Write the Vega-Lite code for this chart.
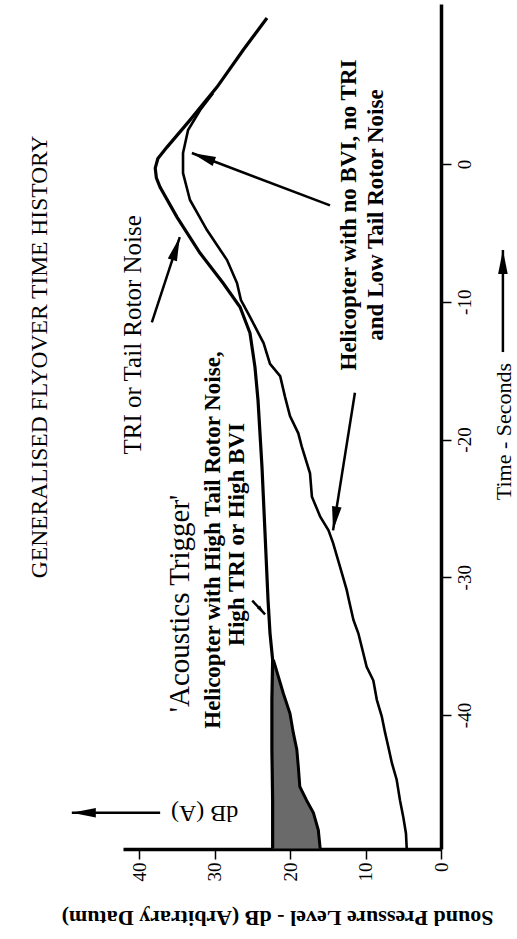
{
  "$schema": "https://vega.github.io/schema/vega-lite/v6.json",
  "autosize": {"type": "none"},
  "width": 318,
  "height": 845,
  "padding": {"left": 123, "top": 4, "right": 76, "bottom": 90},
  "background": "white",
  "config": {
    "font": "Liberation Serif",
    "view": {"stroke": null},
    "axis": {
      "grid": false,
      "domainColor": "black",
      "domainWidth": 3.5,
      "tickColor": "black",
      "tickWidth": 1.5,
      "tickSize": 10,
      "labelColor": "black",
      "labelFont": "Liberation Serif",
      "titleColor": "black",
      "titleFont": "Liberation Serif"
    }
  },
  "layer": [
    {
      "data": {"values": [
        {"t": -36.0, "lower": 22.2, "upper": 22.3},
        {"t": -37.2, "lower": 21.55, "upper": 22.4},
        {"t": -38.4, "lower": 20.9, "upper": 22.4},
        {"t": -39.9, "lower": 20.0, "upper": 22.4},
        {"t": -41.3, "lower": 19.56, "upper": 22.4},
        {"t": -42.5, "lower": 19.1, "upper": 22.4},
        {"t": -43.75, "lower": 18.9, "upper": 22.4},
        {"t": -45.2, "lower": 18.7, "upper": 22.35},
        {"t": -46.2, "lower": 17.8, "upper": 22.3},
        {"t": -47.1, "lower": 16.9, "upper": 22.3},
        {"t": -48.35, "lower": 16.25, "upper": 22.3},
        {"t": -49.7, "lower": 16.0, "upper": 22.3}
      ]},
      "layer": [
        {
          "mark": {"type": "area", "orient": "horizontal", "color": "#6a6a6a", "opacity": 1},
          "encoding": {
            "y": {"field": "t", "type": "quantitative",
              "scale": {"domain": [-49.73, 11.62], "nice": false, "zero": false},
              "axis": {"orient": "right", "values": [-40, -30, -20, -10, 0],
                "labelAngle": -90, "labelFontSize": 19, "labelPadding": 4,
                "labelExpr": "replace(datum.label, '−', '-')",
                "title": "Time - Seconds", "titleFontSize": 22, "titleFontWeight": "normal",
                "titleAngle": -90, "titleX": 62, "titleY": 427,
                "titleAlign": "center", "titleBaseline": "middle"}},
            "x": {"field": "lower", "type": "quantitative",
              "scale": {"domain": [0, 42.12], "reverse": true, "nice": false},
              "axis": {"orient": "bottom", "values": [0, 10, 20, 30, 40],
                "labelAngle": -90, "labelFontSize": 19, "labelPadding": 3,
                "title": "Sound Pressure Level - dB (Arbitrary Datum)", "titleFontSize": 22,
                "titleFontWeight": "bold", "titleAngle": 180, "titleX": 154, "titleY": 68,
                "titleAlign": "center", "titleBaseline": "middle"}},
            "x2": {"field": "upper"}
          }
        },
        {
          "mark": {"type": "line", "color": "black", "strokeWidth": 3},
          "encoding": {
            "y": {"field": "t", "type": "quantitative"},
            "x": {"field": "lower", "type": "quantitative"},
            "order": {"field": "t", "type": "quantitative"}
          }
        }
      ]
    },
    {
      "data": {"values": [
        {"t": 10.6, "db": 23.05}, {"t": 8.28, "db": 26.2}, {"t": 5.59, "db": 29.67},
        {"t": 3.19, "db": 33.25}, {"t": 1.23, "db": 36.29}, {"t": 0.4, "db": 37.5},
        {"t": -0.3, "db": 37.85}, {"t": -1.0, "db": 37.7}, {"t": -1.67, "db": 37.22},
        {"t": -3.85, "db": 34.97}, {"t": -6.46, "db": 31.92}, {"t": -8.64, "db": 28.87},
        {"t": -10.38, "db": 26.62}, {"t": -12.27, "db": 25.3}, {"t": -14.74, "db": 24.64},
        {"t": -17.13, "db": 24.24}, {"t": -22.0, "db": 23.71}, {"t": -26.79, "db": 23.31},
        {"t": -31.65, "db": 22.91}, {"t": -34.05, "db": 22.65}, {"t": -36.0, "db": 22.3},
        {"t": -38.9, "db": 22.4}, {"t": -42.5, "db": 22.4}, {"t": -46.2, "db": 22.3},
        {"t": -49.7, "db": 22.3}
      ]},
      "mark": {"type": "line", "color": "black", "strokeWidth": 3.2},
      "encoding": {
        "y": {"field": "t", "type": "quantitative"},
        "x": {"field": "db", "type": "quantitative"},
        "order": {"field": "t", "type": "quantitative"}
      }
    },
    {
      "data": {"values": [
        {"t": 5.15, "db": 30.2}, {"t": 3.92, "db": 31.9}, {"t": 2.47, "db": 33.5},
        {"t": 0.8, "db": 34.17}, {"t": -0.65, "db": 34.17}, {"t": -2.61, "db": 33.25},
        {"t": -4.79, "db": 31.0}, {"t": -6.97, "db": 28.34}, {"t": -8.64, "db": 27.02},
        {"t": -9.87, "db": 26.5}, {"t": -11.1, "db": 25.3}, {"t": -13.0, "db": 23.5},
        {"t": -14.5, "db": 22.65}, {"t": -15.4, "db": 21.3}, {"t": -16.9, "db": 20.66},
        {"t": -18.3, "db": 20.0}, {"t": -19.55, "db": 18.9}, {"t": -20.5, "db": 18.45},
        {"t": -22.45, "db": 17.35}, {"t": -24.15, "db": 17.1}, {"t": -25.6, "db": 16.0},
        {"t": -26.6, "db": 14.9}, {"t": -27.5, "db": 14.3}, {"t": -29.2, "db": 13.4},
        {"t": -30.9, "db": 12.5}, {"t": -31.65, "db": 12.2}, {"t": -33.1, "db": 11.6},
        {"t": -34.07, "db": 10.95}, {"t": -35.5, "db": 10.3}, {"t": -36.5, "db": 9.85},
        {"t": -37.5, "db": 8.96}, {"t": -38.9, "db": 8.5}, {"t": -40.1, "db": 7.85},
        {"t": -41.3, "db": 7.4}, {"t": -42.3, "db": 6.98}, {"t": -43.5, "db": 6.5},
        {"t": -44.7, "db": 5.87}, {"t": -46.2, "db": 5.43}, {"t": -47.4, "db": 5.0},
        {"t": -48.6, "db": 4.64}, {"t": -49.7, "db": 4.54}
      ]},
      "mark": {"type": "line", "color": "black", "strokeWidth": 2.6},
      "encoding": {
        "y": {"field": "t", "type": "quantitative"},
        "x": {"field": "db", "type": "quantitative"},
        "order": {"field": "t", "type": "quantitative"}
      }
    },
    {
      "data": {"values": [
        {"db": 38.3, "db2": 34.6, "t": -11.5, "t2": -5.3},
        {"db": 14.7, "db2": 33.0, "t": -3.0, "t2": 0.8},
        {"db": 11.4, "db2": 14.3, "t": -16.6, "t2": -26.6},
        {"db": 25.0, "db2": 23.3, "t": -31.7, "t2": -32.7},
        {"db": 37.2, "db2": 48.9, "t": -47.1, "t2": -47.1},
        {"db": -8.2, "db2": -8.2, "t": -13.65, "t2": -6.24}
      ]},
      "mark": {"type": "rule", "color": "black", "strokeWidth": 2.5},
      "encoding": {
        "x": {"field": "db", "type": "quantitative"},
        "x2": {"field": "db2"},
        "y": {"field": "t", "type": "quantitative"},
        "y2": {"field": "t2"}
      }
    },
    {
      "data": {"values": [{"db": 34.6, "t": -5.3}]},
      "mark": {"type": "point", "shape": "M0,0L0.4,2L-0.4,2Z", "filled": true, "color": "black", "opacity": 1, "size": 576, "angle": 18},
      "encoding": {"x": {"field": "db", "type": "quantitative"}, "y": {"field": "t", "type": "quantitative"}}
    },
    {
      "data": {"values": [{"db": 33.0, "t": 0.8}]},
      "mark": {"type": "point", "shape": "M0,0L0.4,2L-0.4,2Z", "filled": true, "color": "black", "opacity": 1, "size": 576, "angle": 290.6},
      "encoding": {"x": {"field": "db", "type": "quantitative"}, "y": {"field": "t", "type": "quantitative"}}
    },
    {
      "data": {"values": [{"db": 14.3, "t": -26.6}]},
      "mark": {"type": "point", "shape": "M0,0L0.4,2L-0.4,2Z", "filled": true, "color": "black", "opacity": 1, "size": 576, "angle": 189},
      "encoding": {"x": {"field": "db", "type": "quantitative"}, "y": {"field": "t", "type": "quantitative"}}
    },
    {
      "data": {"values": [{"db": 23.3, "t": -32.7}]},
      "mark": {"type": "point", "shape": "M0,0L0.4,2L-0.4,2Z", "filled": true, "color": "black", "opacity": 1, "size": 100, "angle": 139},
      "encoding": {"x": {"field": "db", "type": "quantitative"}, "y": {"field": "t", "type": "quantitative"}}
    },
    {
      "data": {"values": [{"db": 48.9, "t": -47.1}]},
      "mark": {"type": "point", "shape": "M0,0L0.4,2L-0.4,2Z", "filled": true, "color": "black", "opacity": 1, "size": 576, "angle": 270},
      "encoding": {"x": {"field": "db", "type": "quantitative"}, "y": {"field": "t", "type": "quantitative"}}
    },
    {
      "data": {"values": [{"db": -8.2, "t": -6.24}]},
      "mark": {"type": "point", "shape": "M0,0L0.4,2L-0.4,2Z", "filled": true, "color": "black", "opacity": 1, "size": 576, "angle": 0},
      "encoding": {"x": {"field": "db", "type": "quantitative"}, "y": {"field": "t", "type": "quantitative"}}
    },
    {
      "data": {"values": [{"label": "GENERALISED FLYOVER TIME HISTORY", "db": 53.1, "t": -14.0}]},
      "mark": {"type": "text", "angle": 270, "fontSize": 23.5, "align": "center", "baseline": "middle", "color": "black"},
      "encoding": {"x": {"field": "db", "type": "quantitative"}, "y": {"field": "t", "type": "quantitative"}, "text": {"field": "label"}}
    },
    {
      "data": {"values": [{"label": "TRI or Tail Rotor Noise", "db": 40.8, "t": -12.4}]},
      "mark": {"type": "text", "angle": 270, "fontSize": 25, "align": "center", "baseline": "middle", "color": "black"},
      "encoding": {"x": {"field": "db", "type": "quantitative"}, "y": {"field": "t", "type": "quantitative"}, "text": {"field": "label"}}
    },
    {
      "data": {"values": [{"label": "'Acoustics Trigger'", "db": 34.6, "t": -31.9}]},
      "mark": {"type": "text", "angle": 270, "fontSize": 29, "align": "center", "baseline": "middle", "color": "black"},
      "encoding": {"x": {"field": "db", "type": "quantitative"}, "y": {"field": "t", "type": "quantitative"}, "text": {"field": "label"}}
    },
    {
      "data": {"values": [
        {"label": "Helicopter with no BVI, no TRI", "db": 12.2, "t": -3.7},
        {"label": "and Low Tail Rotor Noise", "db": 8.6, "t": -3.7},
        {"label": "Helicopter with High Tail Rotor Noise,", "db": 30.2, "t": -27.3},
        {"label": "High TRI or High BVI", "db": 27.0, "t": -26.9}
      ]},
      "mark": {"type": "text", "angle": 270, "fontSize": 23, "fontWeight": "bold", "align": "center", "baseline": "middle", "color": "black"},
      "encoding": {"x": {"field": "db", "type": "quantitative"}, "y": {"field": "t", "type": "quantitative"}, "text": {"field": "label"}}
    },
    {
      "data": {"values": [{"label": "dB (A)", "db": 31.3, "t": -47.1}]},
      "mark": {"type": "text", "angle": 180, "fontSize": 24, "align": "center", "baseline": "middle", "color": "black"},
      "encoding": {"x": {"field": "db", "type": "quantitative"}, "y": {"field": "t", "type": "quantitative"}, "text": {"field": "label"}}
    }
  ]
}
